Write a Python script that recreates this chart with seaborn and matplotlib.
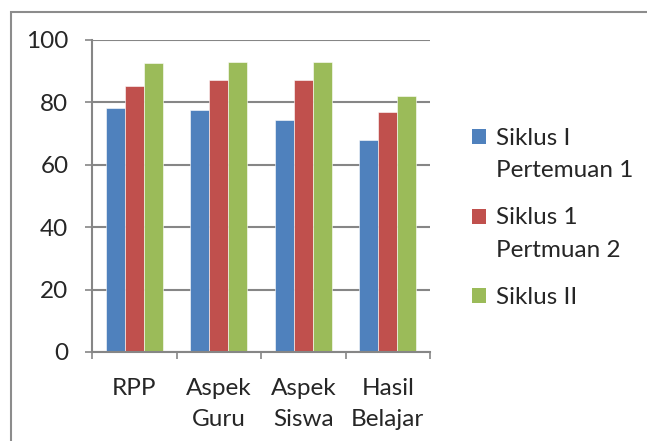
import numpy as np
import matplotlib
matplotlib.use('Agg')
import matplotlib.pyplot as plt
from matplotlib.patches import Rectangle
from matplotlib.legend_handler import HandlerPatch
import pandas as pd
import seaborn as sns

# data
aspek = ['RPP', 'Aspek\nGuru', 'Aspek\nSiswa', 'Hasil\nBelajar']
siklus = ['Siklus I\nPertemuan 1', 'Siklus 1\nPertmuan 2', 'Siklus II']
siklus1_p1 = [78.2, 77.6, 74.5, 68.0]
siklus1_p2 = [85.3, 87.3, 87.3, 77.0]
siklus2 = [92.5, 93.1, 93.1, 82.1]

colors = ['#4F81BD', '#C0504D', '#9BBB59']
grid_c = '#868686'
fs = 17.5


class TopPatch(HandlerPatch):
    # put the square next to the first line of a multi-line label
    def __init__(self, shift=0, **kw):
        super().__init__(**kw)
        self.shift = shift

    def create_artists(self, legend, orig_handle, xdescent, ydescent, width, height, fontsize, trans):
        p = Rectangle((-xdescent, -ydescent + self.shift), width, height,
                      facecolor=orig_handle.get_facecolor(), edgecolor='none', transform=trans)
        return [p]


sns.set_theme(style='white', rc={'axes.facecolor': 'white', 'figure.facecolor': 'white'})
plt.rcParams['font.family'] = ['Lato', 'DejaVu Sans']

df = pd.DataFrame({
    'aspek': aspek * 3,
    'siklus': [siklus[0]] * 4 + [siklus[1]] * 4 + [siklus[2]] * 4,
    'nilai': siklus1_p1 + siklus1_p2 + siklus2,
})

fig = plt.figure(figsize=(6.47, 4.41), dpi=100)
ax = fig.add_axes([92/647, 1 - 352/441, (430 - 92)/647, (352 - 40)/441])

sns.barplot(data=df, x='aspek', y='nilai', hue='siklus', palette=colors, width=0.67,
            saturation=1, edgecolor='white', linewidth=0.4, ax=ax)

ax.set_ylim(0, 100)
ax.set_xlim(-0.5, 3.5)
ax.set_yticks(np.arange(0, 101, 20))
ax.set_xlabel('')
ax.set_ylabel('')
ax.yaxis.grid(True, color=grid_c, linewidth=1.5)
ax.set_axisbelow(True)
for s in ['top', 'right']:
    ax.spines[s].set_visible(False)
for s in ['left', 'bottom']:
    ax.spines[s].set_color(grid_c)
    ax.spines[s].set_linewidth(1.5)

# category boundary ticks on x, outward ticks on y
ax.set_xticks(np.arange(-0.5, 3.6, 1), minor=True)
ax.tick_params(axis='x', which='major', length=0, pad=19, labelsize=fs)
ax.tick_params(axis='x', which='minor', length=5, width=1.2, color=grid_c, direction='out', bottom=True)
ax.tick_params(axis='y', which='major', length=5, width=1.2, color=grid_c, direction='out', left=True, pad=12, labelsize=fs)
for t in ax.get_xticklabels():
    t.set_linespacing(1.55)

handles, labels = ax.get_legend_handles_labels()
hmap = {handles[0]: TopPatch(shift=0.72 * fs), handles[1]: TopPatch(shift=0.72 * fs), handles[2]: TopPatch()}
leg = ax.legend(handles, labels, loc='center left', bbox_to_anchor=(460/647, 1 - 218/441),
                bbox_transform=fig.transFigure, handler_map=hmap,
                frameon=False, fontsize=fs, handlelength=0.58, handleheight=0.58, handletextpad=0.4,
                labelspacing=1.1, borderpad=0)
for t in leg.get_texts():
    t.set_linespacing(1.65)

# outer frame
fig.patches.append(Rectangle((11/647, -0.1), 1.2, 1 - 12/441 + 0.1, transform=fig.transFigure,
                             fill=False, edgecolor='#8c8c8c', linewidth=1.5))

fig.savefig('out.png', dpi=100)
